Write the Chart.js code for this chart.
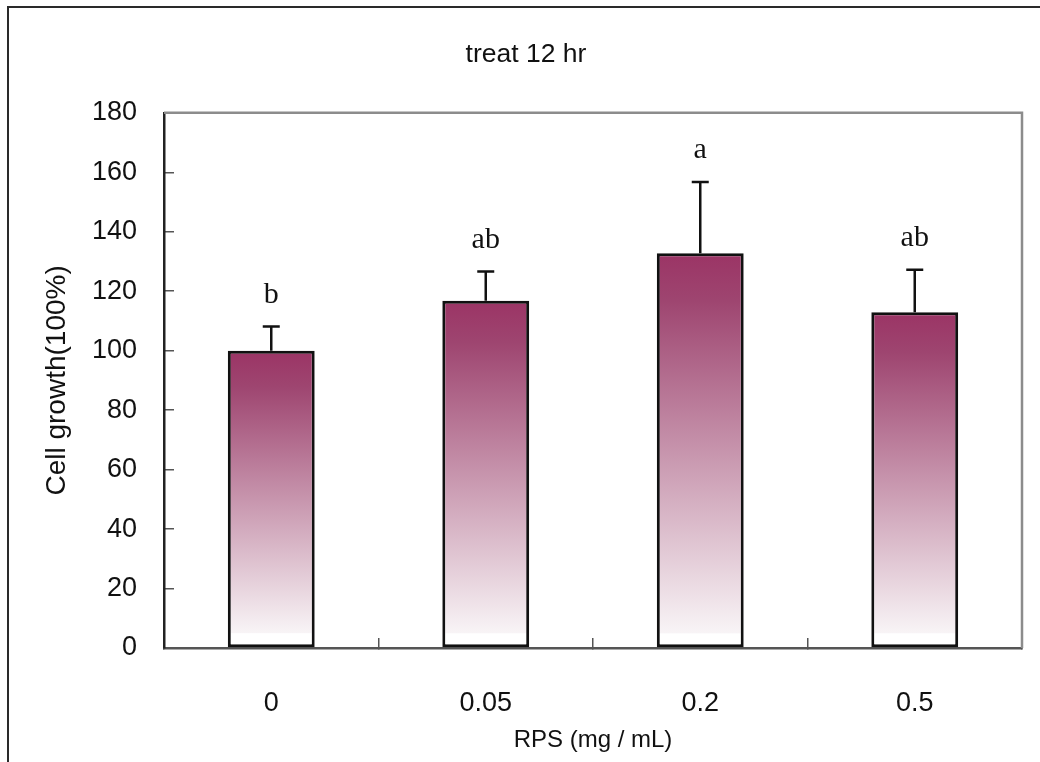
<!DOCTYPE html>
<html>
<head>
<meta charset="utf-8">
<script src="https://cdn.jsdelivr.net/npm/chart.js@4.4.1/dist/chart.umd.min.js"></script>
<style>
  html, body { margin: 0; padding: 0; background: #ffffff; }
  #wrap { width: 1040px; height: 762px; position: relative; }
</style>
</head>
<body>
<div id="wrap"><canvas id="c" width="1040" height="762"></canvas></div>
<script>
// ---- data ----
const categories = ['0', '0.05', '0.2', '0.5'];
const growth = [100, 116.8, 132.8, 112.9];
const errors = [8.1, 9.8, 23.9, 14.3];
const letters = ['b', 'ab', 'a', 'ab'];
const yMin = 0;
const yMax = 180;
const yStep = 20;
const chartTitle = 'treat 12 hr';
const xTitle = 'RPS (mg / mL)';
const yTitle = 'Cell growth(100%)';

const SANS = "'Liberation Sans', Arial, sans-serif";
const SERIF = "'Liberation Serif', 'Times New Roman', serif";

function barGradient(ctx) {
  const chart = ctx.chart;
  const y = chart.scales && chart.scales.y;
  if (!y || ctx.type !== 'data') return '#9b3465';
  const v = ctx.raw;
  const top = y.getPixelForValue(v);
  const base = y.getPixelForValue(0);
  if (!isFinite(top) || !isFinite(base) || base - top < 2) return '#9b3465';
  const g = chart.ctx.createLinearGradient(0, top, 0, base);
  const whiteStart = Math.max(0.5, (base - 15 - top) / (base - top));
  g.addColorStop(0, '#9b3465');
  g.addColorStop(0.12, '#9e4570');
  g.addColorStop(whiteStart, '#f8f4f6');
  g.addColorStop(Math.min(1, whiteStart + 0.002), '#ffffff');
  g.addColorStop(1, '#ffffff');
  return g;
}

const framePlugin = {
  id: 'frame',
  beforeDraw(chart) {
    const c = chart.ctx;
    c.save();
    c.fillStyle = '#ffffff';
    c.fillRect(0, 0, chart.width, chart.height);
    c.strokeStyle = '#2a2a2a';
    c.lineWidth = 2;
    c.strokeRect(8, 7, chart.width + 10, chart.height + 10);
    c.restore();
  },
  afterDraw(chart) {
    const a = chart.chartArea;
    const c = chart.ctx;
    c.save();
    c.strokeStyle = '#8c8c8c';
    c.lineWidth = 2.5;
    c.beginPath();
    c.moveTo(a.left, a.top);
    c.lineTo(a.right, a.top);
    c.lineTo(a.right, a.bottom);
    c.stroke();
    c.restore();
  }
};

const errorPlugin = {
  id: 'errbars',
  afterDatasetsDraw(chart) {
    const meta = chart.getDatasetMeta(0);
    const y = chart.scales.y;
    const c = chart.ctx;
    c.save();
    meta.data.forEach((el, i) => {
      const yTop = y.getPixelForValue(growth[i] + errors[i]);
      const yBar = y.getPixelForValue(growth[i]);
      c.strokeStyle = '#111111';
      c.lineWidth = 2.5;
      c.beginPath();
      c.moveTo(el.x, yBar);
      c.lineTo(el.x, yTop);
      c.moveTo(el.x - 8.5, yTop);
      c.lineTo(el.x + 8.5, yTop);
      c.stroke();
      c.fillStyle = '#111111';
      c.font = '30px ' + SERIF;
      c.textAlign = 'center';
      c.textBaseline = 'alphabetic';
      c.fillText(letters[i], el.x, yTop - 24);
    });
    c.restore();
  }
};

new Chart(document.getElementById('c'), {
  type: 'bar',
  data: {
    labels: categories,
    datasets: [{
      data: growth,
      backgroundColor: barGradient,
      borderColor: '#111111',
      borderWidth: 3,
      borderSkipped: false,
      categoryPercentage: 1.0,
      barPercentage: 0.405
    }]
  },
  options: {
    responsive: false,
    animation: false,
    devicePixelRatio: 1,
    layout: { padding: { left: 12, right: 0, top: 0, bottom: 0 } },
    plugins: {
      legend: { display: false },
      tooltip: { enabled: false },
      title: {
        display: true,
        text: chartTitle,
        color: '#111111',
        font: { family: SANS, size: 26.5, weight: 'normal', lineHeight: 1.2 },
        padding: { top: 39, bottom: 42 }
      }
    },
    scales: {
      x: {
        grid: {
          display: true,
          drawOnChartArea: false,
          drawTicks: true,
          tickLength: -10,
          offset: true,
          color: '#555555',
          lineWidth: 1.5
        },
        border: { display: true, color: '#555555', width: 2.5 },
        ticks: {
          color: '#111111',
          font: { family: SANS, size: 27 },
          padding: 49,
          maxRotation: 0
        },
        title: {
          display: true,
          text: xTitle,
          color: '#111111',
          font: { family: SANS, size: 24, lineHeight: 1.8 },
          padding: 0
        },
        afterFit(scale) { scale.height = 114; }
      },
      y: {
        min: yMin,
        max: yMax,
        grid: {
          display: true,
          drawOnChartArea: false,
          drawTicks: true,
          tickLength: -10,
          color: '#555555',
          lineWidth: 1.5
        },
        border: { display: true, color: '#222222', width: 2.5 },
        ticks: {
          stepSize: yStep,
          color: '#111111',
          font: { family: SANS, size: 27 },
          padding: 37
        },
        title: {
          display: true,
          text: yTitle,
          color: '#111111',
          font: { family: SANS, size: 28, lineHeight: 3.2 },
          padding: 0
        },
        afterFit(scale) { scale.width = 152; }
      },
      yRight: {
        type: 'linear',
        position: 'right',
        min: yMin,
        max: yMax,
        display: true,
        grid: { display: false },
        border: { display: false },
        ticks: { display: false },
        afterFit(scale) { scale.width = 18; }
      }
    }
  },
  plugins: [framePlugin, errorPlugin]
});
</script>
</body>
</html>
